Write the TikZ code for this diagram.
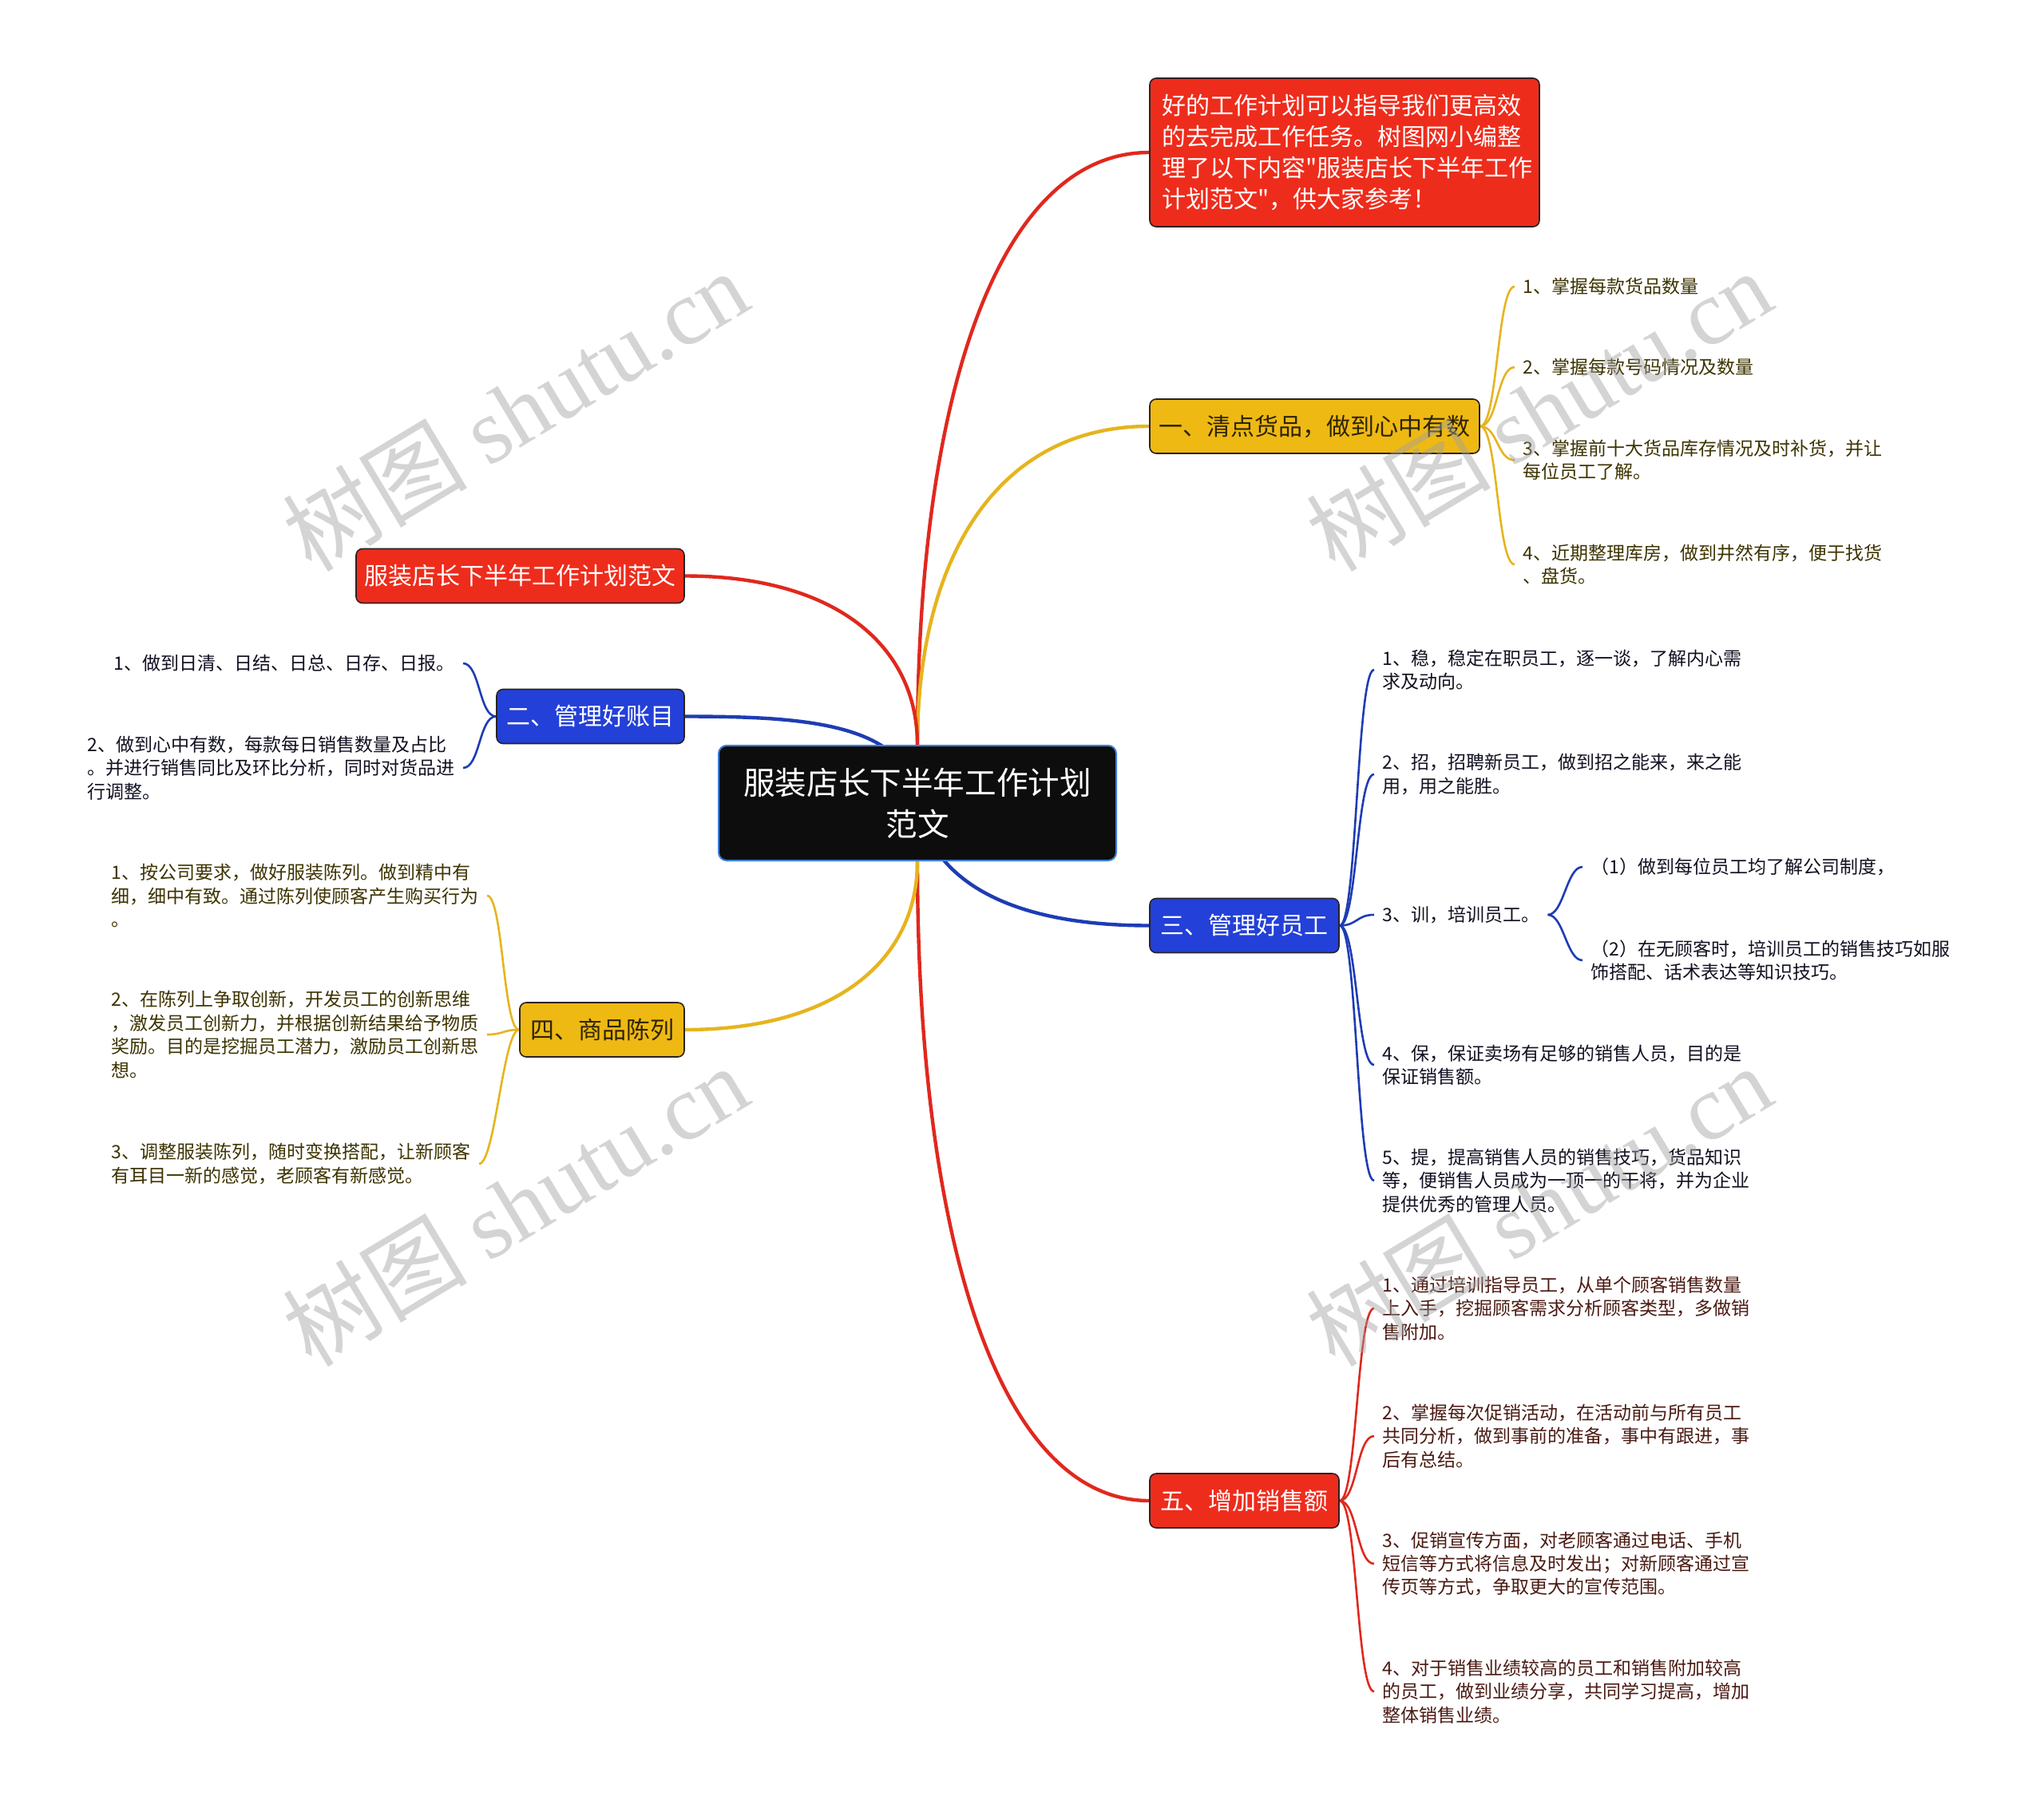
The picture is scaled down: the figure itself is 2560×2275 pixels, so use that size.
\documentclass[tikz,border=0pt]{standalone}
\usepackage{fontspec}
\setmainfont{Noto Sans CJK SC}
\newfontfamily\cjkplain{Noto Sans CJK SC}
\newfontfamily\wmfont{Liberation Serif}
\usetikzlibrary{backgrounds}
\definecolor{cred}{HTML}{EE2C1C}
\definecolor{cyel}{HTML}{EFB914}
\definecolor{cblue}{HTML}{2340D8}
\definecolor{lred}{HTML}{E0281E}
\definecolor{lyel}{HTML}{E6B41E}
\definecolor{lblue}{HTML}{1E3CB4}
\definecolor{cblack}{HTML}{0D0D0D}
\definecolor{cborder}{HTML}{3F7FD9}
\definecolor{bdark}{HTML}{2A2222}
\definecolor{tyel}{HTML}{2D2400}
\definecolor{yleaftext}{HTML}{3D3300}
\definecolor{rleaftext}{HTML}{4A1A12}
\definecolor{bleaftext}{HTML}{111122}
\definecolor{wmgray}{HTML}{A0A0A0}
\begin{document}
\begin{tikzpicture}[x=0.5pt,y=-0.5pt,
  box/.style={rounded corners=4pt, draw=bdark, line width=0.8pt, inner sep=0pt,
    minimum height=34pt, align=center, font=\fontsize{15pt}{19.5pt}\selectfont},
  redbox/.style={box, fill=cred, text=white},
  yelbox/.style={box, fill=cyel, text=tyel},
  bluebox/.style={box, fill=cblue, text=white},
  centerbox/.style={rounded corners=5pt, draw=cborder, line width=1pt, fill=cblack,
    text=white, inner sep=0pt, minimum width=249pt, minimum height=72pt,
    align=center, font=\fontsize{19.8pt}{26pt}\selectfont},
  leaf/.style={inner xsep=5pt, inner ysep=2pt, align=left,
    font=\fontsize{11.5pt}{14.7pt}\selectfont},
  yleaf/.style={leaf, text=yleaftext},
  rleaf/.style={leaf, text=rleaftext},
  bleaf/.style={leaf, text=bleaftext},
  mainline/.style={line width=2.2pt},
  leafline/.style={line width=1.3pt},
  wm/.style={rotate=31, text=wmgray, text opacity=0.45, inner sep=0pt,
    font=\fontsize{58pt}{62pt}\selectfont}
]
\useasboundingbox (0,0) rectangle (2560,2275);

% main nodes
\node[centerbox] (c) at (1149,1006) {服装店长下半年工作计划\\范文};
\node[redbox, text width=229pt, align=left, inner xsep=7.5pt, minimum height=93pt,
  font=\cjkplain\fontsize{15pt}{19.5pt}\selectfont] (intro) at (1684,191)
  {好的工作计划可以指导我们更高效\\的去完成工作任务。树图网小编整\\理了以下内容"服装店长下半年工作\\计划范文"，供大家参考！};
\node[yelbox, minimum width=206.5pt] (s1) at (1646.5,534) {一、清点货品，做到心中有数};
\node[redbox, minimum width=205.5pt] (t) at (651.5,721.5) {服装店长下半年工作计划范文};
\node[bluebox, minimum width=117.5pt] (s2) at (739.5,897.5) {二、管理好账目};
\node[bluebox, minimum width=118.5pt] (s3) at (1558.5,1159.5) {三、管理好员工};
\node[yelbox, minimum width=103pt] (s4) at (754,1290) {四、商品陈列};
\node[redbox, minimum width=118.5pt] (s5) at (1558.5,1880) {五、增加销售额};

% leaves of s1
\node[yleaf, anchor=west] (l11) at (1897,359) {1、掌握每款货品数量};
\node[yleaf, anchor=west] (l12) at (1897,460) {2、掌握每款号码情况及数量};
\node[yleaf, anchor=west] (l13) at (1897,576.5) {3、掌握前十大货品库存情况及时补货，并让\\每位员工了解。};
\node[yleaf, anchor=west] (l14) at (1897,707) {4、近期整理库房，做到井然有序，便于找货\\、盘货。};

% leaves of s2
\node[bleaf, anchor=east] (l21) at (580,831) {1、做到日清、日结、日总、日存、日报。};
\node[bleaf, anchor=east] (l22) at (580,962) {2、做到心中有数，每款每日销售数量及占比\\。并进行销售同比及环比分析，同时对货品进\\行调整。};

% leaves of s3
\node[bleaf, anchor=west] (l31) at (1721,839) {1、稳，稳定在职员工，逐一谈，了解内心需\\求及动向。};
\node[bleaf, anchor=west] (l32) at (1721,970) {2、招，招聘新员工，做到招之能来，来之能\\用，用之能胜。};
\node[bleaf, anchor=west] (l33) at (1721,1146) {3、训，培训员工。};
\node[bleaf, anchor=west] (l331) at (1982,1086) {（1）做到每位员工均了解公司制度，};
\node[bleaf, anchor=west] (l332) at (1982,1203) {（2）在无顾客时，培训员工的销售技巧如服\\饰搭配、话术表达等知识技巧。};
\node[bleaf, anchor=west] (l34) at (1721,1334) {4、保，保证卖场有足够的销售人员，目的是\\保证销售额。};
\node[bleaf, anchor=west] (l35) at (1721,1479) {5、提，提高销售人员的销售技巧，货品知识\\等，便销售人员成为一顶一的干将，并为企业\\提供优秀的管理人员。};

% leaves of s4
\node[yleaf, anchor=east] (l41) at (610,1122) {1、按公司要求，做好服装陈列。做到精中有\\细，细中有致。通过陈列使顾客产生购买行为\\。};
\node[yleaf, anchor=east] (l42) at (610,1296) {2、在陈列上争取创新，开发员工的创新思维\\，激发员工创新力，并根据创新结果给予物质\\奖励。目的是挖掘员工潜力，激励员工创新思\\想。};
\node[yleaf, anchor=east] (l43) at (600,1458) {3、调整服装陈列，随时变换搭配，让新顾客\\有耳目一新的感觉，老顾客有新感觉。};

% leaves of s5
\node[rleaf, anchor=west] (l51) at (1721,1639) {1、通过培训指导员工，从单个顾客销售数量\\上入手，挖掘顾客需求分析顾客类型，多做销\\售附加。};
\node[rleaf, anchor=west] (l52) at (1721,1799) {2、掌握每次促销活动，在活动前与所有员工\\共同分析，做到事前的准备，事中有跟进，事\\后有总结。};
\node[rleaf, anchor=west] (l53) at (1721,1959) {3、促销宣传方面，对老顾客通过电话、手机\\短信等方式将信息及时发出；对新顾客通过宣\\传页等方式，争取更大的宣传范围。};
\node[rleaf, anchor=west] (l54) at (1721,2119) {4、对于销售业绩较高的员工和销售附加较高\\的员工，做到业绩分享，共同学习提高，增加\\整体销售业绩。};

\begin{scope}[on background layer]
  \fill[white] (0,0) rectangle (2560,2275);
  % main branches
  \draw[lred, mainline] (c.north) .. controls +(0,-434) and +(-190,0) .. (intro.west);
  \draw[lyel, mainline] (c.north) .. controls +(0,-234) and +(-190,0) .. (s1.west);
  \draw[lred, mainline] (c.south) .. controls +(0,468) and +(-190,0) .. (s5.west);
  \draw[lblue, mainline] (c.center) .. controls +(16,94) and +(-180,0) .. (s3.west);
  \draw[lred, mainline] (t.east) .. controls +(189,0) and +(0,-124) .. (c.north);
  \draw[lyel, mainline] (s4.east) .. controls +(189,0) and +(0,124) .. (c.south);
  \draw[lblue, mainline] (s2.east) .. controls +(153,0) and +(-10,-100) .. (c.center);
  % leaf connectors
  \foreach \l in {l11,l12,l13,l14}
    \draw[lyel, leafline] (s1.east) .. controls +(22,0) and +(-22,0) .. (\l.west);
  \foreach \l in {l21,l22}
    \draw[lblue, leafline] (s2.west) .. controls +(-21,0) and +(21,0) .. (\l.east);
  \foreach \l in {l31,l32,l33,l34,l35}
    \draw[lblue, leafline] (s3.east) .. controls +(22,0) and +(-22,0) .. (\l.west);
  \foreach \l in {l331,l332}
    \draw[lblue, leafline] (l33.east) .. controls +(20,0) and +(-20,0) .. (\l.west);
  \foreach \l in {l41,l42,l43}
    \draw[lyel, leafline] (s4.west) .. controls +(-20,0) and +(20,0) .. (\l.east);
  \foreach \l in {l51,l52,l53,l54}
    \draw[lred, leafline] (s5.east) .. controls +(22,0) and +(-22,0) .. (\l.west);
\end{scope}

% watermarks
\node[wm] (wm1) at (645,514) {树图 {\wmfont shutu.cn}};
\node[wm] (wm2) at (1927,514) {树图 {\wmfont shutu.cn}};
\node[wm] (wm3) at (645,1510) {树图 {\wmfont shutu.cn}};
\node[wm] (wm4) at (1927,1510) {树图 {\wmfont shutu.cn}};
\end{tikzpicture}
\end{document}
